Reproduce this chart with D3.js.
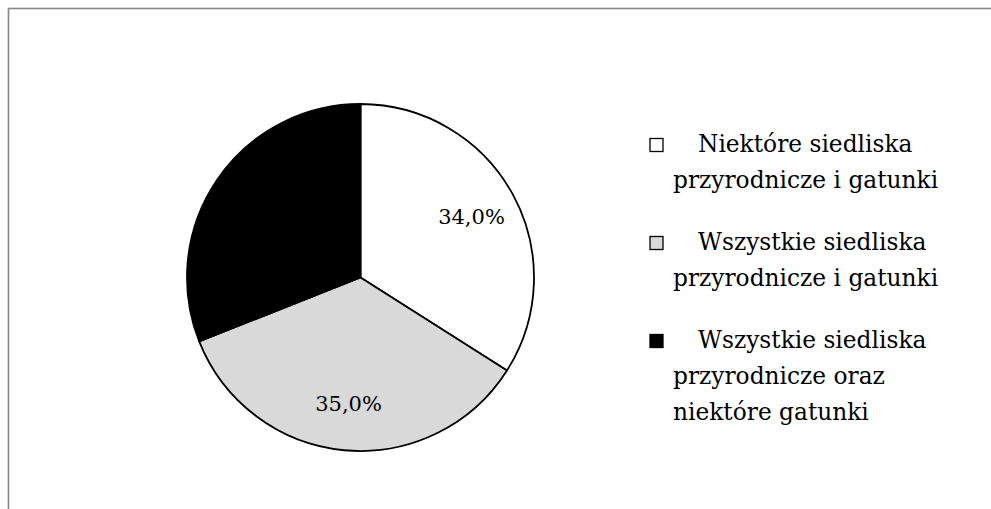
<!DOCTYPE html>
<html>
<head>
<meta charset="utf-8">
<script src="https://cdn.jsdelivr.net/npm/d3@7"></script>
<style>
  body { margin: 0; background: #fff; }
  text { font-family: "DejaVu Serif", serif; }
</style>
</head>
<body>
<svg id="pieChart"></svg>
<script>
// data
var categories = [
    ["Niektóre siedliska", "przyrodnicze i gatunki"],
    ["Wszystkie siedliska", "przyrodnicze i gatunki"],
    ["Wszystkie siedliska", "przyrodnicze oraz", "niektóre gatunki"]
];
var values = [34.0, 35.0, 31.0];
var colors = ["#ffffff", "#d9d9d9", "#000000"];

// basic settings
var width = 991;
var height = 509;
var radius = 173.5;
var cx = 360.5, cy = 277.5;

var svg = d3.select("#pieChart")
    .attr("width", width)
    .attr("height", height);

// chart frame (only top and left edge are in view)
svg.append("rect")
    .attr("x", 8.5)
    .attr("y", 8.5)
    .attr("width", 1100)
    .attr("height", 700)
    .attr("fill", "none")
    .attr("stroke", "#868686")
    .attr("stroke-width", 1.6);

var data = values.map(function(v, i) {
    return { name: categories[i].join(" "), value: v, color: colors[i] };
});

var pie = d3.pie()
    .sort(null)
    .value(function(d) { return d.value; });

var arc = d3.arc().innerRadius(0).outerRadius(radius);
var labelArc = d3.arc().innerRadius(radius * 0.73).outerRadius(radius * 0.73);

var g = svg.append("g")
    .attr("transform", "translate(" + cx + "," + cy + ")");

var slices = g.selectAll(".arc")
    .data(pie(data))
    .enter().append("g")
    .attr("class", "arc");

slices.append("path")
    .attr("d", arc)
    .attr("fill", function(d) { return d.data.color; })
    .attr("stroke", "#000")
    .attr("stroke-width", 1.8)
    .attr("stroke-linejoin", "round");

// percentage labels (the black one disappears on black, like the original)
slices.append("text")
    .attr("transform", function(d) { return "translate(" + labelArc.centroid(d) + ")"; })
    .attr("text-anchor", "middle")
    .attr("dy", "0.35em")
    .attr("font-size", 21)
    .attr("fill", "#000")
    .text(function(d) { return d.data.value.toFixed(1).replace(".", ",") + "%"; });

// legend
var lineH = 36;
var groupY = d3.scalePoint().domain(d3.range(data.length)).range([152, 348]);

var legend = svg.append("g").attr("class", "legend");

var item = legend.selectAll(".item")
    .data(data)
    .enter().append("g")
    .attr("class", "item")
    .attr("transform", function(d, i) { return "translate(0," + groupY(i) + ")"; });

item.append("rect")
    .attr("x", 650)
    .attr("y", -13.5)
    .attr("width", 13)
    .attr("height", 13)
    .attr("fill", function(d) { return d.color; })
    .attr("stroke", "#000")
    .attr("stroke-width", 1.3);

item.append("text")
    .attr("font-size", 23.3)
    .attr("fill", "#000")
    .selectAll("tspan")
    .data(function(d, i) { return categories[i]; })
    .enter().append("tspan")
    .attr("x", function(d, j) { return j === 0 ? 698 : 673; })
    .attr("y", function(d, j) { return j * lineH; })
    .text(function(d) { return d; });
</script>
</body>
</html>
